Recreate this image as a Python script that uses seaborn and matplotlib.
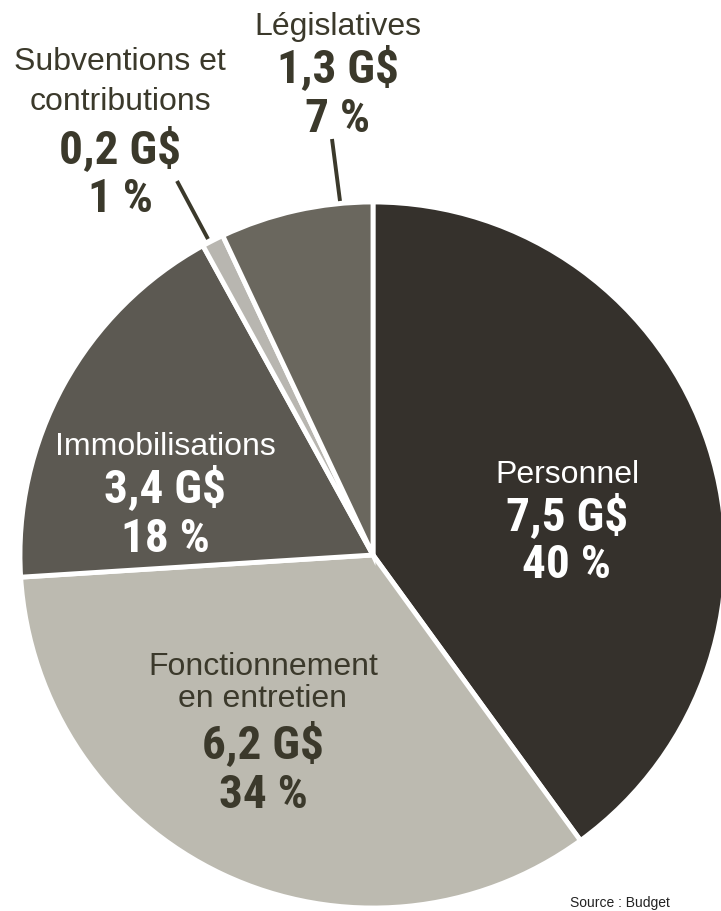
import matplotlib
matplotlib.use("Agg")
import matplotlib.pyplot as plt
import seaborn as sns
from matplotlib import font_manager as fm
from matplotlib.font_manager import FontProperties

sns.set_theme(style="white")
plt.rcParams['font.family'] = ['Liberation Sans', 'DejaVu Sans']

# ---- data ----
categories = ["Personnel", "Fonctionnement\nen entretien", "Immobilisations",
              "Subventions et\ncontributions", "Législatives"]
amounts = [7.5, 6.2, 3.4, 0.2, 1.3]
amount_labels = ["7,5 G$", "6,2 G$", "3,4 G$", "0,2 G$", "1,3 G$"]
percents = [40, 34, 18, 1, 7]
percent_labels = ["40 %", "34 %", "18 %", "1 %", "7 %"]
colors = ["#35312c", "#bcbab0", "#5c5952", "#b8b6b0", "#6a675e"]
source = "Source : Budget"

# ---- pick a condensed bold font ----
def pick_condensed():
    prefs = ["Roboto Condensed", "Liberation Sans Narrow", "DejaVu Sans Condensed",
             "Open Sans Condensed", "Noto Sans Condensed"]
    cands = []
    for f in fm.fontManager.ttflist:
        w = f.weight if isinstance(f.weight, int) else (700 if 'bold' in str(f.weight).lower() else 400)
        cond = ('condensed' in str(f.stretch).lower() or 'narrow' in f.name.lower()
                or 'condensed' in f.name.lower() or 'Condensed' in f.fname or 'Narrow' in f.fname)
        if cond and w >= 700 and 'italic' not in f.style.lower() and 'Italic' not in f.fname and 'Oblique' not in f.fname:
            cands.append(f)
    # prefer the heaviest weight of the preferred family
    for p in prefs:
        fam = [f for f in cands if f.name == p or p.replace(' ', '') in f.fname.replace(' ', '')]
        if fam:
            fam.sort(key=lambda f: -(f.weight if isinstance(f.weight, int) else 700))
            return fam[0].fname
    if cands:
        return cands[0].fname
    return None

cfont = pick_condensed()

def bigfont(size):
    if cfont:
        return FontProperties(fname=cfont, size=size)
    return FontProperties(family='DejaVu Sans', weight='bold', stretch='condensed', size=size)

W, H = 721, 912
fig = plt.figure(figsize=(W / 100, H / 100), dpi=100)
ax = fig.add_axes([0, 0, 1, 1])
ax.set_xlim(0, W)
ax.set_ylim(0, H)
ax.set_aspect('equal')
ax.axis('off')

cx, cy, r = 373, H - 556, 353
ax.pie(percents, colors=colors, startangle=90, counterclock=False,
       center=(cx, cy), radius=r,
       wedgeprops=dict(edgecolor='white', linewidth=3.5))
ax.set_xlim(0, W)
ax.set_ylim(0, H)

dark = "#3b392b"
white = "#ffffff"

def Y(y):
    return H - y

name_fs = 23
big_fs = 34

def block(i, x, name_baselines, amt_base, pct_base, color):
    names = categories[i].split("\n")
    for nm, b in zip(names, name_baselines):
        ax.text(x, Y(b), nm, ha='center', va='baseline', fontsize=name_fs, color=color)
    ax.text(x, Y(amt_base), amount_labels[i], ha='center', va='baseline',
            fontproperties=bigfont(big_fs), color=color)
    ax.text(x, Y(pct_base), percent_labels[i], ha='center', va='baseline',
            fontproperties=bigfont(big_fs), color=color)

block(0, 567, [483], 530, 578, white)
block(1, 263, [675, 707], 758, 808, dark)
block(2, 165, [455], 502, 552, white)
block(3, 120, [70, 110], 163, 212, dark)
block(4, 338, [35], 82, 132, dark)

# leader lines
ax.plot([332, 340], [Y(140), Y(202)], color=dark, lw=2.8, solid_capstyle='butt')
ax.plot([177, 208], [Y(182), Y(240)], color=dark, lw=2.8, solid_capstyle='butt')

ax.text(620, Y(910), source, ha='center', va='bottom', fontsize=10, color="#222222")

fig.savefig("out.png", dpi=100)
